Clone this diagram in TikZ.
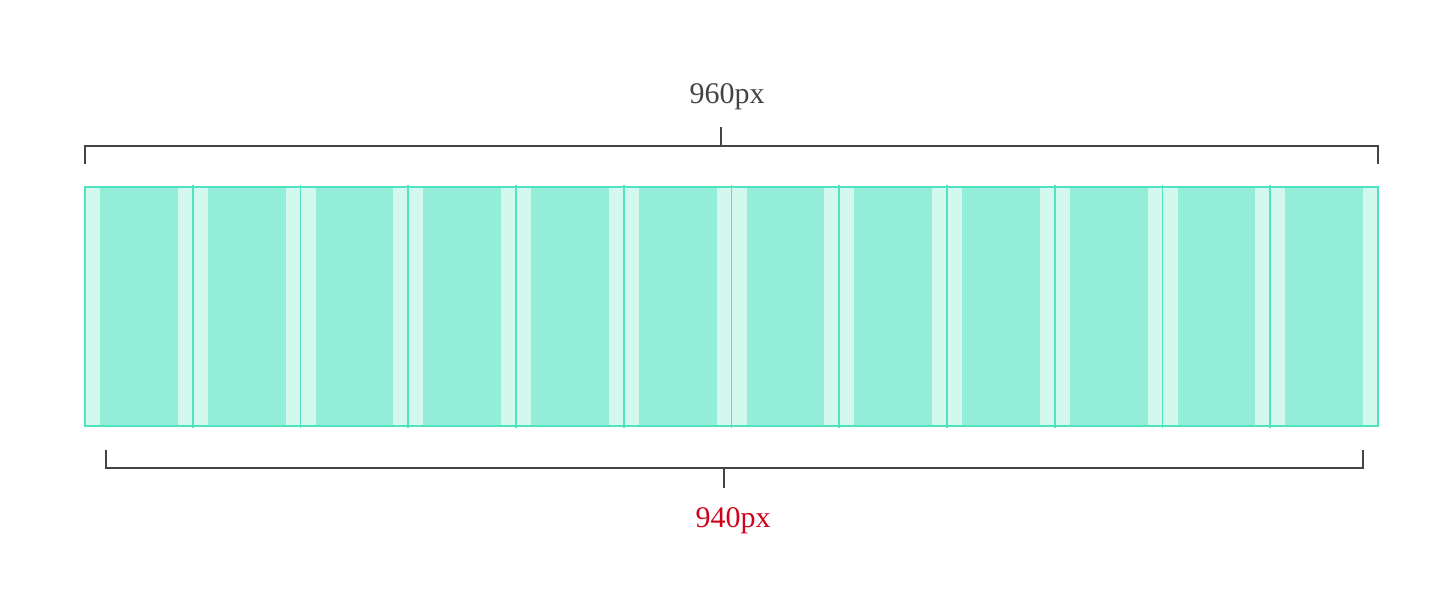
\documentclass[tikz,border=0pt]{standalone}
\usepackage{fontspec}
\setmainfont{Liberation Serif}
\usetikzlibrary{positioning}
\definecolor{gridline}{HTML}{50E3C2}
\definecolor{coldark}{HTML}{93EDD9}
\definecolor{collight}{HTML}{D3F8EE}
\definecolor{ink}{HTML}{444444}
\definecolor{redink}{HTML}{D0021B}

\begin{document}
\begin{tikzpicture}[x=0.5pt,y=-0.5pt,
  bracket/.style={draw=ink,line width=1pt},
  sepline/.style={draw=gridline,line width=0.9pt},
  sizelabel/.style={font=\fontsize{15}{18}\selectfont,anchor=base,inner sep=0pt}]
  \useasboundingbox (0,0) rectangle (1456,604);
  % twelve columns with gutters
  \foreach \i in {0,...,11}{
    \fill[collight] ({85+\i*107.75},187) rectangle ++(107.75,239);
    \fill[coldark] ({100+\i*107.75},187) rectangle ++(77.75,239);
  }
  \foreach \i in {1,...,11}
    \draw[sepline] ({85+\i*107.75},185) -- ({85+\i*107.75},428);
  \draw[sepline] (85,187) rectangle (1378,426);
  % outer width
  \coordinate (topL) at (85,146);
  \coordinate (topR) at (1378,146);
  \coordinate (topM) at (721,146);
  \node[sizelabel,text=ink] (outerw) at (727,104) {960px};
  \draw[bracket] (topL) ++(0,18) -- (topL) -- (topR) -- ++(0,18);
  \draw[bracket] (topM) -- ++(0,-19);
  % inner width
  \coordinate (botL) at (106,468);
  \coordinate (botR) at (1363,468);
  \coordinate (botM) at (724,468);
  \node[sizelabel,text=redink] (innerw) at (733,527) {940px};
  \draw[bracket] (botL) ++(0,-18) -- (botL) -- (botR) -- ++(0,-18);
  \draw[bracket] (botM) -- ++(0,20);
\end{tikzpicture}
\end{document}
